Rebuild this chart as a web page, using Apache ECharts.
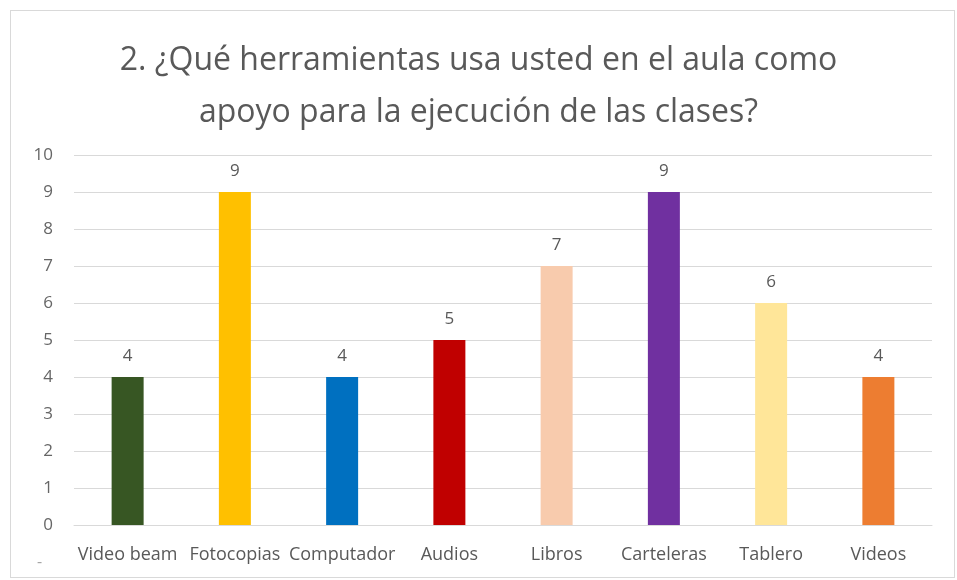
<!DOCTYPE html>
<html>
<head>
<meta charset="utf-8">
<script src="https://cdn.jsdelivr.net/npm/echarts@6/dist/echarts.min.js"></script>
<style>
    html, body { margin: 0; padding: 0; background: #fff; }
    #frame { position: absolute; left: 10px; top: 10px; width: 945px; height: 568px; border: 1px solid #d9d9d9; box-sizing: border-box; }
    #chart { position: absolute; left: 0; top: 0; width: 957px; height: 580px; }
</style>
</head>
<body>
<div id="frame"></div>
<div id="chart"></div>
<script>
    // datos de la gráfica
    var categorias = ['Video beam', 'Fotocopias', 'Computador', 'Audios', 'Libros', 'Carteleras', 'Tablero', 'Videos'];
    var valores = [4, 9, 4, 5, 7, 9, 6, 4];
    var colores = ['#375623', '#ffc000', '#0070c0', '#c00000', '#f8cbad', '#7030a0', '#ffe699', '#ed7d31'];
    var titulo = '2. ¿Qué herramientas usa usted en el aula como\napoyo para la ejecución de las clases?';

    var fuente = '"Open Sans", "Liberation Sans", sans-serif';
    var gris = '#595959';

    var myChart = echarts.init(document.getElementById('chart'));
    var option = {
        animation: false,
        title: {
            text: titulo,
            left: 'center',
            top: 30,
            textStyle: {
                fontFamily: fuente,
                fontSize: 32,
                fontWeight: 'normal',
                color: gris,
                lineHeight: 52
            }
        },
        grid: {
            left: 74,
            right: 25,
            top: 155,
            bottom: 55
        },
        xAxis: {
            type: 'category',
            data: categorias,
            axisLine: { lineStyle: { color: '#d9d9d9' } },
            axisTick: { show: false },
            axisLabel: {
                interval: 0,
                color: gris,
                fontFamily: fuente,
                fontSize: 18,
                margin: 21
            }
        },
        yAxis: {
            type: 'value',
            min: 0,
            max: 10,
            interval: 1,
            axisLine: { show: false },
            axisTick: { show: false },
            splitLine: { lineStyle: { color: '#d9d9d9' } },
            axisLabel: {
                color: '#666666',
                fontFamily: fuente,
                fontSize: 17,
                margin: 21
            }
        },
        graphic: [{
            type: 'text',
            left: 37,
            top: 554,
            style: { text: '-', fill: '#a6a6a6', font: '16px ' + fuente }
        }],
        series: [{
            type: 'bar',
            barWidth: 32,
            data: valores.map(function (v, i) {
                return { value: v, itemStyle: { color: colores[i] } };
            }),
            label: {
                show: true,
                position: 'top',
                distance: 12,
                color: gris,
                fontFamily: fuente,
                fontSize: 17
            }
        }]
    };
    myChart.setOption(option);
</script>
</body>
</html>
